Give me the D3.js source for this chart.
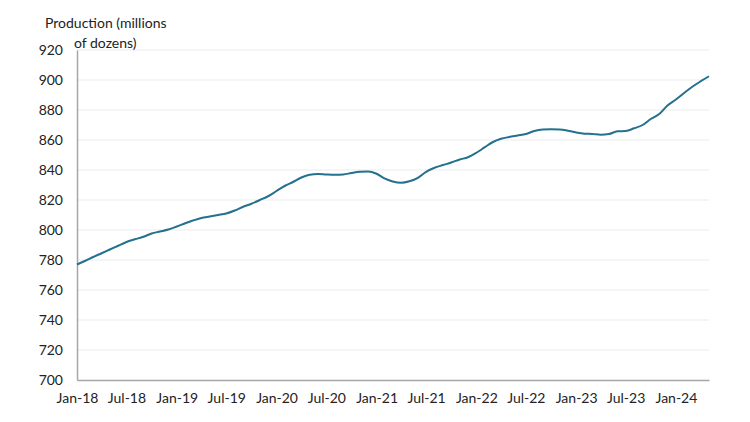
<!DOCTYPE html>
<html><head><meta charset="utf-8">
<script src="https://cdn.jsdelivr.net/npm/d3@7"></script>
<style>body{margin:0;background:#fff;} svg{display:block;}</style>
</head><body>
<svg id="chart" width="750" height="422"></svg>
<script>
const startMonth = "2018-01";
const values = [777,779.5,782,784.5,787,789.5,792,793.8,795.5,797.7,799,800.3,
802.3,804.5,806.3,808,809,810,811,813,815.5,817.5,820,822.5,
826,829.5,832,835,836.8,837.3,837,836.8,837,838,838.8,839,
837.5,834.2,832.3,831.5,832.5,834.8,838.8,841.5,843.3,845,847,848.5,
851.5,855.2,858.5,860.8,862,863,864,866,867,867.2,867,866.2,
865,864.2,864,863.5,864,865.8,866,867.8,870,874,877.3,883,
887,891.5,895.5,899.2,902.5];
const xTickLabels = ["Jan-18","Jul-18","Jan-19","Jul-19","Jan-20","Jul-20","Jan-21","Jul-21","Jan-22","Jul-22","Jan-23","Jul-23","Jan-24"];
const yTicks = [700,720,740,760,780,800,820,840,860,880,900,920];
const yTitle = ["Production (millions","of dozens)"];

const parse = d3.timeParse("%Y-%m");
const t0 = parse(startMonth);
const dates = values.map((v,i)=>d3.timeMonth.offset(t0,i));
const data = values.map((v,i)=>({date:dates[i],value:v}));

const svg = d3.select("#chart");
const font = "Lato, 'Open Sans', sans-serif";
const mLeft = 77, mRight = 709, mTop = 50, mBottom = 380;

const x = d3.scaleTime().domain([dates[0], dates[dates.length-1]]).range([mLeft,mRight]);
const y = d3.scaleLinear().domain([700,920]).range([mBottom,mTop]);

// gridlines
svg.append("g").selectAll("line").data(yTicks.filter(d=>d>700)).join("line")
  .attr("x1",mLeft).attr("x2",mRight).attr("y1",d=>y(d)).attr("y2",d=>y(d))
  .attr("stroke","#ebebeb").attr("stroke-width",1.2);

// y axis
const yAxis = svg.append("g").attr("transform",`translate(${mLeft},0)`)
  .call(d3.axisLeft(y).tickValues(yTicks).tickSize(0).tickPadding(14));
yAxis.select(".domain").attr("stroke","#a6a6a6").attr("stroke-width",1.5);
yAxis.selectAll("text").attr("font-family",font).attr("font-size",14).attr("fill","#222");

// x axis
const tickDates = xTickLabels.map(s=>d3.timeParse("%b-%y")(s));
const xAxis = svg.append("g").attr("transform",`translate(0,${mBottom})`)
  .call(d3.axisBottom(x).tickValues(tickDates).tickFormat((d,i)=>xTickLabels[i]).tickSize(0).tickPadding(13));
xAxis.select(".domain").attr("stroke","#a6a6a6").attr("stroke-width",1.5);
xAxis.selectAll("text").attr("font-family",font).attr("font-size",14).attr("fill","#222");

// line
svg.append("path").datum(data)
  .attr("fill","none").attr("stroke","#23708f").attr("stroke-width",2)
  .attr("stroke-linejoin","round")
  .attr("d", d3.line().x(d=>x(d.date)).y(d=>y(d.value)).curve(d3.curveMonotoneX));

// title
svg.append("text").attr("x",45).attr("y",28).attr("font-family",font).attr("font-size",14).attr("fill","#222").text(yTitle[0]);
svg.append("text").attr("x",74).attr("y",48).attr("font-family",font).attr("font-size",14).attr("fill","#222").text(yTitle[1]);
</script>
</body></html>
